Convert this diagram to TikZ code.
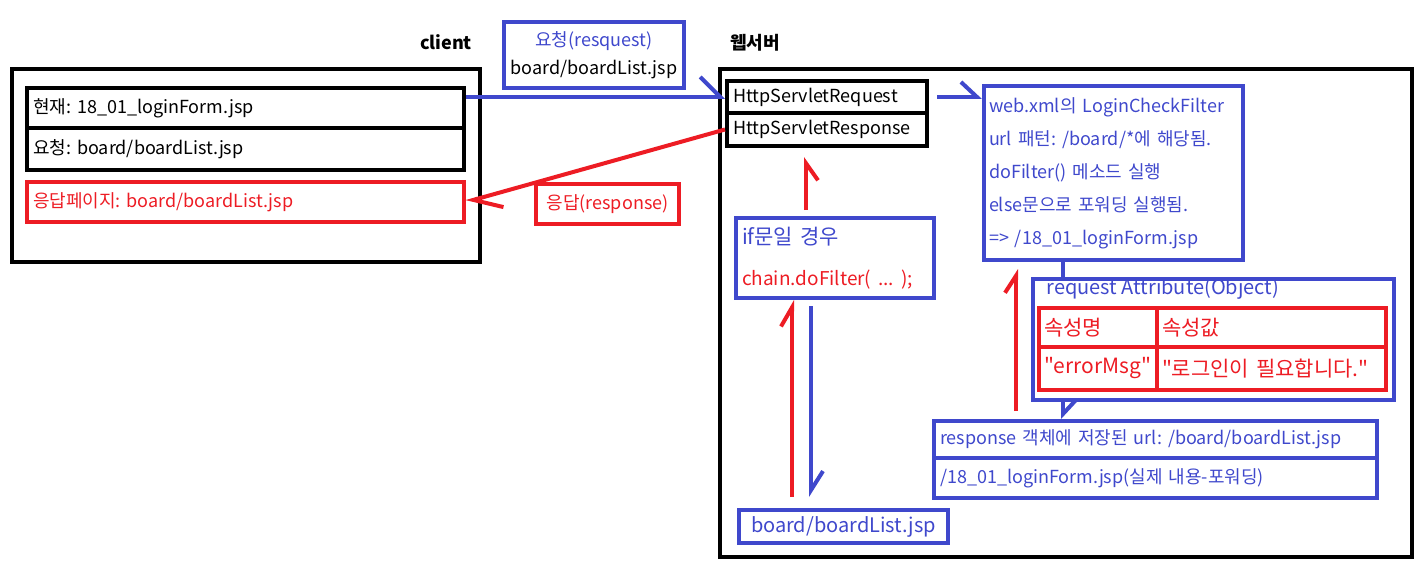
\documentclass[tikz,border=0pt]{standalone}
\usepackage{fontspec}
\setmainfont{Noto Sans CJK KR}
\usepackage{tikz}
\usetikzlibrary{arrows.meta, calc}
\definecolor{pblue}{HTML}{3F48CC}
\definecolor{pred}{HTML}{ED1C24}
\frenchspacing
\tikzstyle{outerbox}  = [draw, line width=4pt, anchor=north west, inner sep=0pt]
\tikzstyle{blkbox}    = [draw, line width=4pt, anchor=north west, inner xsep=6pt,
                         inner ysep=0pt, align=left]
\tikzstyle{bluebox}   = [blkbox, draw=pblue, text=pblue]
\tikzstyle{redbox}    = [blkbox, draw=pred, text=pred]
\tikzstyle{cell}      = [redbox, inner xsep=5pt, font=\fontsize{21}{25}\selectfont]
\tikzstyle{bluearrow} = [draw=pblue, line width=4pt]
\tikzstyle{redarrow}  = [draw=pred, line width=4pt]
\tikzstyle{title}     = [font=\fontsize{18}{22}\selectfont\bfseries]

\begin{document}
\begin{tikzpicture}[x=1pt, y=-1pt, every node/.style={font=\fontsize{18}{22}\selectfont}]
  \useasboundingbox (0,0) rectangle (1426,583);

  % Client
  \node[title] (clientlbl) at (446,42) {client};
  \node[outerbox, minimum width=468pt, minimum height=193pt] (client) at (10,67) {};
  \node[blkbox, minimum height=40pt, text width=425pt] (now) at (25,86) {현재: 18\_01\_loginForm.jsp};
  \node[blkbox, minimum height=42pt, text width=425pt] (reqpage) at (25,126) {요청: board/boardList.jsp};
  \node[redbox, minimum height=40pt, text width=425pt] (respage) at (25,180) {응답페이지: board/boardList.jsp};

  % Labels between
  \node[bluebox, align=center, minimum width=180pt, minimum height=66pt] (reqlbl) at (502,20)
    {요청(resquest)\\[6pt]\textcolor{black}{board/boardList.jsp}};
  \node[redbox, align=center, minimum width=143pt, minimum height=40pt] (reslbl) at (534,182) {응답(response)};

  % Web server
  \node[title] (weblbl) at (755,43) {웹서버};
  \node[outerbox, minimum width=692pt, minimum height=488pt] (web) at (718,67) {};
  \node[blkbox, minimum height=32pt, text width=188pt] (req) at (725,79) {HttpServletRequest};
  \node[blkbox, minimum height=33pt, text width=188pt] (resp) at (725,111) {HttpServletResponse};
  \node[bluebox, minimum height=174pt, inner xsep=5pt, text width=249pt, font=\fontsize{18}{33}\selectfont] (webxml) at (982,84)
    {\mbox{web.xml의 LoginCheckFilter}\\url 패턴: /board/*에 해당됨.\\doFilter() 메소드 실행\\else문으로 포워딩 실행됨.\\=> /18\_01\_loginForm.jsp};
  \node[bluebox, minimum height=80pt, text width=186pt, font=\fontsize{21}{41}\selectfont] (ifbox) at (734,216)
    {if문일 경우\\{\fontsize{19}{41}\selectfont\textcolor{pred}{chain.doFilter( ... );}}};
  \node[bluebox, minimum height=33pt, inner xsep=12pt, text width=185pt, font=\fontsize{20}{24}\selectfont] (board) at (737,508) {board/boardList.jsp};

  % Request attribute
  \node[outerbox, draw=pblue, minimum width=361pt, minimum height=121pt] (attr) at (1031,277) {};
  \node[anchor=west, text=pblue, font=\fontsize{20}{24}\selectfont] (attrlbl) at (1043,289) {request Attribute(Object)};
  \node[cell, minimum height=39pt, text width=108pt] (namehd) at (1037,306) {속성명};
  \node[cell, minimum height=39pt, text width=219pt] (valhd) at (1155,306) {속성값};
  \node[cell, minimum height=43pt, text width=108pt] (namecell) at (1037,345) {\mbox{\textquotedbl errorMsg\textquotedbl}};
  \node[cell, minimum height=43pt, text width=219pt] (valcell) at (1155,345) {\mbox{\textquotedbl 로그인이 필요합니다.\textquotedbl}};

  % Response object
  \node[bluebox, minimum height=37pt, text width=431pt] (respurl) at (932,419) {response 객체에 저장된 url: /board/boardList.jsp};
  \node[bluebox, minimum height=40pt, text width=431pt] (respfwd) at (932,456) {/18\_01\_loginForm.jsp(실제 내용-포워딩)};

  % Request and response arrows
  \draw[bluearrow, -{Straight Barb[left, length=20pt, width=40pt]}] (now.east |- req.west) -- (req.west);
  \draw[bluearrow, -{Straight Barb[left, length=16pt, width=30pt]}] ([xshift=8pt]req.east) -- (webxml.west |- req.east);
  \draw[redarrow, -{Straight Barb[left, length=27pt, width=30pt]}] (resp.west) -- (respage.east);

  % Inside the web server
  \draw[redarrow, shorten <=6pt, shorten >=9pt, -{Straight Barb[right, length=17pt, width=24pt]}]
    ([xshift=72pt]ifbox.north west) -- ([xshift=72pt]ifbox.north west |- resp.south);
  \draw[redarrow, shorten <=11pt, -{Straight Barb[left, length=19pt, width=22pt]}]
    ([xshift=55pt]board.north west) -- ([xshift=55pt]board.north west |- ifbox.south);
  \draw[bluearrow, shorten <=6pt, shorten >=11pt, -{Straight Barb[left, length=19pt, width=24pt]}]
    ([xshift=77pt]ifbox.south west) -- ([xshift=77pt]ifbox.south west |- board.north);
  \draw[bluearrow] ([xshift=81pt]webxml.south west) -- ([xshift=81pt]webxml.south west |- attr.north);
  \draw[bluearrow, -{Straight Barb[left, length=14pt, width=26pt]}]
    ([xshift=32pt]attr.south west) -- ([xshift=32pt]attr.south west |- respurl.north);
  \draw[redarrow, shorten <=8pt, shorten >=7pt, -{Straight Barb[left, length=17pt, width=22pt]}]
    ([xshift=84pt]respurl.north west) -- ([xshift=84pt]respurl.north west |- webxml.south);
\end{tikzpicture}
\end{document}
